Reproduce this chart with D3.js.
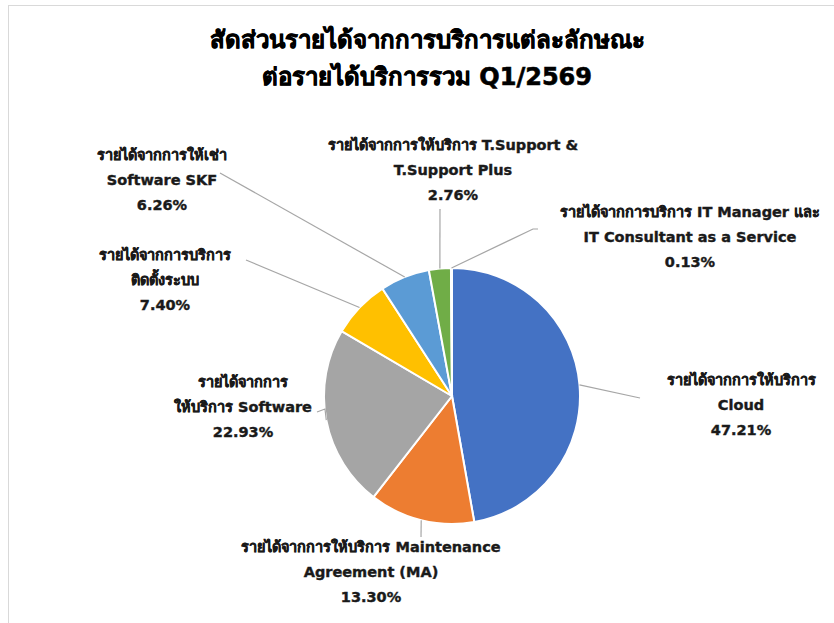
<!DOCTYPE html>
<html lang="th">
<head>
<meta charset="utf-8">
<title>Revenue share pie</title>
<script src="https://cdn.jsdelivr.net/npm/d3@7"></script>
<style>
  body { margin: 0; background: #ffffff; }
  .title { font-family: "DejaVu Sans", "Noto Sans", sans-serif; font-size: 24px; font-weight: bold; fill: #000; stroke: #000; stroke-width: 0.6; text-anchor: middle; }
  .lbl { font-family: "DejaVu Sans", "Noto Sans", sans-serif; font-size: 14.5px; font-weight: bold; fill: #1a1a1a; stroke: #1a1a1a; stroke-width: 0.4; text-anchor: middle; }
  .leader { fill: none; stroke: #a6a6a6; stroke-width: 1.2; }
</style>
</head>
<body>
<script>
// data, clockwise from 12 o'clock
var categories = ["Cloud", "MA", "Software", "Install", "SKF", "TSupport", "ITManager"];
var values = [47.21, 13.30, 22.93, 7.40, 6.26, 2.76, 0.13];
var colors = ["#4472C4", "#ED7D31", "#A5A5A5", "#FFC000", "#5B9BD5", "#70AD47", "#264478"];
var labelText = [
  ["รายได้จากการให้บริการ", "Cloud"],
  ["รายได้จากการให้บริการ Maintenance", "Agreement (MA)"],
  ["รายได้จากการ", "ให้บริการ Software"],
  ["รายได้จากการบริการ", "ติดตั้งระบบ"],
  ["รายได้จากการให้เช่า", "Software SKF"],
  ["รายได้จากการให้บริการ T.Support &", "T.Support Plus"],
  ["รายได้จากการบริการ IT Manager และ", "IT Consultant as a Service"]
];
var titleLines = ["สัดส่วนรายได้จากการบริการแต่ละลักษณะ", "ต่อรายได้บริการรวม Q1/2569"];

// layout
var width = 834, height = 623;
var cx = 452, cy = 396, radius = 128;
var lineGap = 25;
// label centre x, first baseline y, leader end [x,y], optional elbow
var labelPos = {
  Cloud:     { x: 741, y: 385, end: [640, 398] },
  MA:        { x: 371, y: 552, end: [421, 537] },
  Software:  { x: 243, y: 387, end: [317, 412], elbow: [325, 409] },
  Install:   { x: 165, y: 260, end: [246, 260] },
  SKF:       { x: 162, y: 160, end: [220, 173] },
  TSupport:  { x: 453, y: 150, end: [440, 209] },
  ITManager: { x: 690, y: 217, end: [538, 229], elbow: [533, 229] }
};

var svg = d3.select("body").append("svg")
  .attr("width", width)
  .attr("height", height);

svg.append("rect")
  .attr("x", 8.5).attr("y", 5.5)
  .attr("width", width).attr("height", height)
  .attr("fill", "#fff").attr("stroke", "#d9d9d9");

svg.selectAll("text.title")
  .data(titleLines)
  .enter().append("text")
  .attr("class", "title")
  .attr("x", 427)
  .attr("y", function(d, i) { return 48 + i * 37; })
  .text(function(d) { return d; });

var pie = d3.pie().sort(null).value(function(d) { return d; });
var arcs = pie(values);
var arc = d3.arc().innerRadius(0).outerRadius(radius);

var g = svg.append("g").attr("transform", "translate(" + cx + "," + cy + ")");
g.selectAll("path")
  .data(arcs)
  .enter().append("path")
  .attr("d", arc)
  .attr("fill", function(d, i) { return colors[i]; })
  .attr("stroke", "#fff")
  .attr("stroke-width", 2);

// leader lines and labels
arcs.forEach(function(a, i) {
  var p = labelPos[categories[i]];
  var mid = (a.startAngle + a.endAngle) / 2;
  var sx = cx + radius * Math.sin(mid);
  var sy = cy - radius * Math.cos(mid);
  var pts = [[sx, sy]];
  if (p.elbow) pts.push(p.elbow);
  pts.push(p.end);
  svg.append("path")
    .attr("class", "leader")
    .attr("d", d3.line()(pts));

  var lines = labelText[i].concat([values[i].toFixed(2) + "%"]);
  svg.append("g").selectAll("text")
    .data(lines)
    .enter().append("text")
    .attr("class", "lbl")
    .attr("x", p.x)
    .attr("y", function(d, j) { return p.y + j * lineGap; })
    .text(function(d) { return d; });
});
</script>
</body>
</html>
